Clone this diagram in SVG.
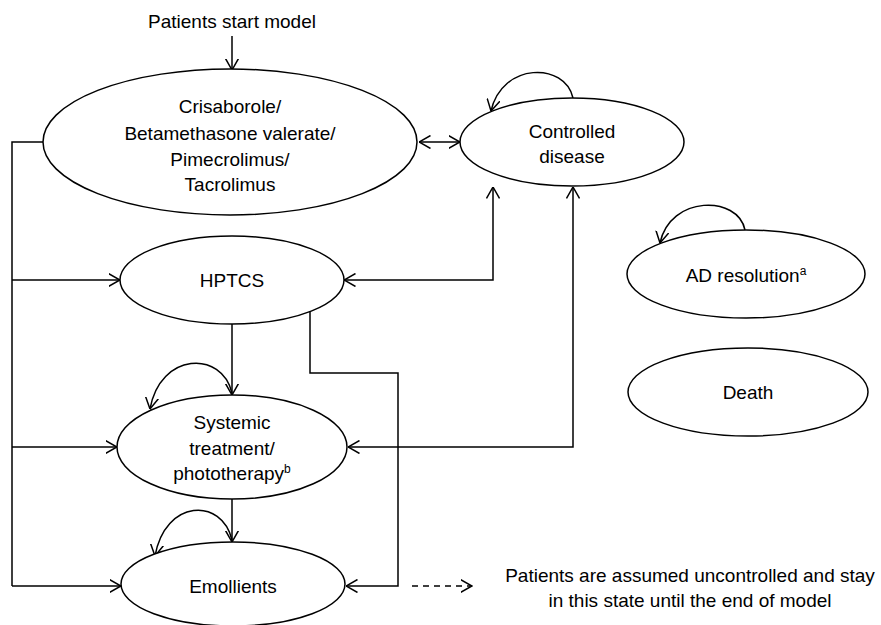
<svg xmlns="http://www.w3.org/2000/svg" width="881" height="625" viewBox="0 0 881 625">
<style>
text{font-family:"Liberation Sans",Arial,sans-serif;font-size:19px;fill:#000;text-anchor:middle}
.n ellipse{fill:#fff;stroke:#000;stroke-width:1.5}
.c path,.c line{fill:none;stroke:#000;stroke-width:1.5}
.sup{font-size:12px}
</style>
<defs>
<marker id="a" viewBox="0 0 12 14" refX="11.5" refY="7" markerWidth="12" markerHeight="14" markerUnits="userSpaceOnUse" orient="auto-start-reverse">
<path d="M0,0.5 L11.5,7 L0,13.5" fill="none" stroke="#000" stroke-width="1.5"/>
</marker>
</defs>
<g class="c" id="connectors">
<line x1="232" y1="36" x2="232" y2="70" marker-end="url(#a)"/>
<line x1="419" y1="142" x2="460" y2="142" marker-start="url(#a)" marker-end="url(#a)"/>
<path d="M573,98 C565,62 502,62 491,111" marker-end="url(#a)"/>
<path d="M745,230 C738,195 670,195 660,243" marker-end="url(#a)"/>
<path d="M43,142 H12 V586"/>
<line x1="12" y1="280" x2="120" y2="280" marker-end="url(#a)"/>
<line x1="12" y1="447" x2="117" y2="447" marker-end="url(#a)"/>
<line x1="12" y1="586" x2="121" y2="586" marker-end="url(#a)"/>
<path d="M344,280 H493 V187" marker-start="url(#a)" marker-end="url(#a)"/>
<path d="M348,447 H573 V187" marker-start="url(#a)" marker-end="url(#a)"/>
<line x1="232" y1="324" x2="232" y2="395" marker-end="url(#a)"/>
<path d="M232,393 C222,350 160,352 150,409" marker-end="url(#a)"/>
<line x1="232" y1="499" x2="232" y2="542" marker-end="url(#a)"/>
<path d="M232,540 C222,497 165,499 155,556" marker-end="url(#a)"/>
<path d="M310,311 V373 H398 V586 H346" marker-end="url(#a)"/>
<line x1="412" y1="586" x2="472" y2="586" stroke-dasharray="6,5" marker-end="url(#a)"/>
</g>
<text x="232" y="28">Patients start model</text>
<g class="n" id="n-topical">
<ellipse cx="230" cy="142" rx="187" ry="73"/>
<text x="230" y="113">Crisaborole/</text>
<text x="230" y="140">Betamethasone valerate/</text>
<text x="230" y="166">Pimecrolimus/</text>
<text x="230" y="191">Tacrolimus</text>
</g>
<g class="n" id="n-controlled">
<ellipse cx="572" cy="142" rx="112" ry="44"/>
<text x="572" y="138">Controlled</text>
<text x="572" y="163">disease</text>
</g>
<g class="n" id="n-adres">
<ellipse cx="746" cy="274" rx="119" ry="44"/>
<text x="746" y="282">AD resolution<tspan class="sup" dy="-7">a</tspan></text>
</g>
<g class="n" id="n-death">
<ellipse cx="748" cy="392" rx="120" ry="44"/>
<text x="748" y="399">Death</text>
</g>
<g class="n" id="n-hptcs">
<ellipse cx="232" cy="280" rx="112" ry="44"/>
<text x="232" y="287">HPTCS</text>
</g>
<g class="n" id="n-systemic">
<ellipse cx="232" cy="447" rx="115" ry="52"/>
<text x="232" y="429">Systemic</text>
<text x="232" y="455">treatment/</text>
<text x="232" y="480">phototherapy<tspan class="sup" dy="-7">b</tspan></text>
</g>
<g class="n" id="n-emollients">
<ellipse cx="233" cy="584" rx="112" ry="42"/>
<text x="233" y="593">Emollients</text>
</g>
<g id="legend">
<text x="690" y="582">Patients are assumed uncontrolled and stay</text>
<text x="690" y="607">in this state until the end of model</text>
</g>
</svg>
